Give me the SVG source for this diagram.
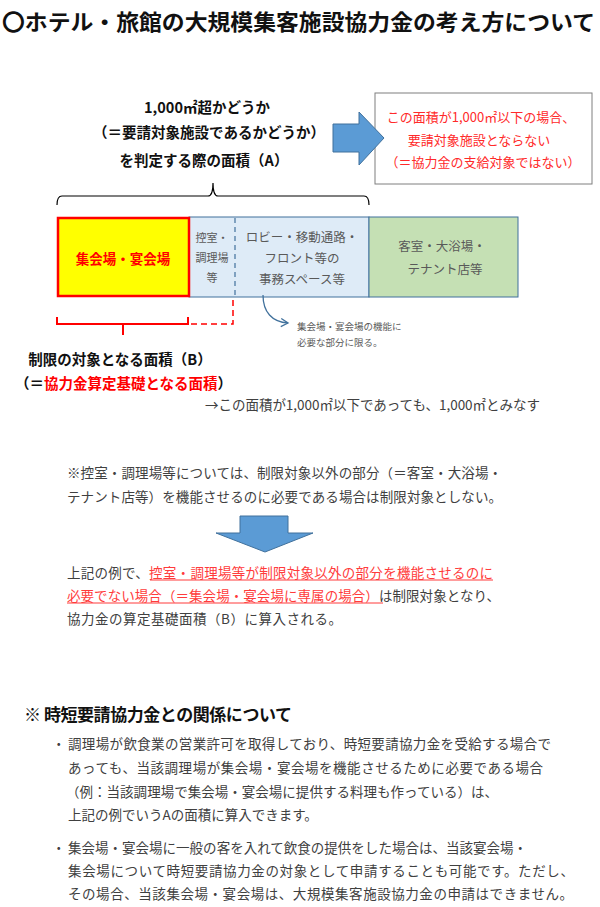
<svg xmlns="http://www.w3.org/2000/svg" width="600" height="907" viewBox="0 0 600 907">
<defs>
<style>
text{font-family:"Noto Sans CJK JP","Noto Sans",sans-serif;dominant-baseline:central}
.t{fill:#404040;font-size:13.5px}
.b{font-weight:bold;fill:#111}
.r{fill:#ff2a2a}
.rb{fill:#ff0000;font-weight:bold}
.c{text-anchor:middle}
.g{fill:#595959}
.blk{fill:#5b9bd5;stroke:#41719c;stroke-width:1}
</style>
<marker id="ah" markerWidth="10" markerHeight="10" refX="8" refY="5" orient="auto" markerUnits="userSpaceOnUse">
<path d="M1,1 L8,5 L1,9" fill="none" stroke="#41719c" stroke-width="1.3"/>
</marker>
</defs>
<rect width="600" height="907" fill="#fff"/>

<g id="title">
<text x="2" y="20" class="b" font-size="22" textLength="593" lengthAdjust="spacingAndGlyphs">〇ホテル・旅館の大規模集客施設協力金の考え方について</text>
</g>

<g id="areaA-label">
<text x="207" y="106" class="b c" font-size="14.5">1,000㎡超かどうか</text>
<text x="209" y="131" class="b c" font-size="14.5" textLength="232" lengthAdjust="spacingAndGlyphs">（＝要請対象施設であるかどうか）</text>
<text x="204" y="159" class="b c" font-size="14.5">を判定する際の面積（A）</text>
</g>

<g id="note-box">
<rect x="375" y="93" width="217" height="91" fill="#fff" stroke="#7f7f7f" stroke-width="1"/>
<text x="481" y="116" class="r c" font-size="13">この面積が1,000㎡以下の場合、</text>
<text x="479" y="139" class="r c" font-size="13">要請対象施設とならない</text>
<text x="483" y="161" class="r c" font-size="13">（＝協力金の支給対象ではない）</text>
</g>

<g id="bar-lobby">
<rect x="189" y="217" width="180" height="80" fill="#deebf7" stroke="#41719c" stroke-width="1"/>
<line x1="235" y1="218" x2="235" y2="297" stroke="#41719c" stroke-width="1.2" stroke-dasharray="5,4"/>
<text x="212" y="237" class="g c" font-size="11">控室・</text>
<text x="212" y="257" class="g c" font-size="11">調理場</text>
<text x="212" y="277" class="g c" font-size="11">等</text>
<text x="302" y="236" class="g c" font-size="12.5">ロビー・移動通路・</text>
<text x="302" y="257" class="g c" font-size="12.5">フロント等の</text>
<text x="302" y="278" class="g c" font-size="12.5">事務スペース等</text>
</g>

<g id="bar-hall">
<rect x="58" y="218" width="131" height="78" fill="#ffff00" stroke="#ff0000" stroke-width="2.5"/>
<text x="123" y="258" class="rb c" font-size="13.5">集会場・宴会場</text>
</g>

<g id="bar-guest">
<rect x="369" y="217" width="149" height="80" fill="#c5e0b4" stroke="#41719c" stroke-width="1"/>
<text x="442" y="245" class="g c" font-size="12.5">客室・大浴場・</text>
<text x="445" y="268" class="g c" font-size="12.5">テナント店等</text>
</g>

<g id="small-note">
<text x="297" y="326" class="g" font-size="9.5">集会場・宴会場の機能に</text>
<text x="297" y="342" class="g" font-size="9.5">必要な部分に限る。</text>
</g>

<g id="areaB-label">
<text x="120" y="358" class="b c" font-size="14.5">制限の対象となる面積（B）</text>
<text x="15" y="382" font-size="14.5" font-weight="bold"><tspan fill="#111">（＝</tspan><tspan fill="#ff0000">協力金算定基礎となる面積</tspan><tspan fill="#111">）</tspan></text>
<text x="205" y="404" class="t" font-size="13" textLength="335">→この面積が1,000㎡以下であっても、1,000㎡とみなす</text>
</g>

<g id="para1">
<text x="67" y="472" class="t" textLength="435">※控室・調理場等については、制限対象以外の部分（＝客室・大浴場・</text>
<text x="67" y="496" class="t" textLength="435">テナント店等）を機能させるのに必要である場合は制限対象としない。</text>
</g>

<g id="para2">
<text x="67" y="572" class="t" textLength="426">上記の例で、<tspan fill="#ff3b3b">控室・調理場等が制限対象以外の部分を機能させるのに</tspan></text>
<text x="67" y="595" class="t" textLength="433"><tspan fill="#ff3b3b">必要でない場合（＝集会場・宴会場に専属の場合）</tspan>は制限対象となり、</text>
<text x="67" y="618" class="t" textLength="275">協力金の算定基礎面積（B）に算入される。</text>
<line x1="150" y1="580" x2="493" y2="580" stroke="#ff3b3b" stroke-width="1"/>
<line x1="67" y1="603" x2="383" y2="603" stroke="#ff3b3b" stroke-width="1"/>
</g>

<g id="section2">
<text x="24" y="713" class="b" font-size="17" textLength="268">※ 時短要請協力金との関係について</text>
<text x="52" y="743" class="t">・</text>
<text x="68" y="743" class="t" textLength="483">調理場が飲食業の営業許可を取得しており、時短要請協力金を受給する場合で</text>
<text x="68" y="767" class="t" textLength="475">あっても、当該調理場が集会場・宴会場を機能させるために必要である場合</text>
<text x="66" y="791" class="t" textLength="432">（例：当該調理場で集会場・宴会場に提供する料理も作っている）は、</text>
<text x="68" y="814" class="t">上記の例でいうAの面積に算入できます。</text>
<text x="52" y="847" class="t">・</text>
<text x="68" y="847" class="t" textLength="459">集会場・宴会場に一般の客を入れて飲食の提供をした場合は、当該宴会場・</text>
<text x="68" y="870" class="t" textLength="506">集会場について時短要請協力金の対象として申請することも可能です。ただし、</text>
<text x="68" y="893" class="t" textLength="505">その場合、当該集会場・宴会場は、大規模集客施設協力金の申請はできません。</text>
</g>

<g id="connectors" fill="none">
<path d="M57,205 Q57,196 62,196 L208,196 Q213,196 213,183 Q213,196 218,196 L364,196 Q369,196 369,205" stroke="#000" stroke-width="1.2"/>
<polygon class="blk" points="333,124 359,124 359,112 384,138 359,165 359,152 333,152"/>
<path d="M263,295 C263,312 272,322 288,323" stroke="#41719c" stroke-width="1.3" marker-end="url(#ah)"/>
<path d="M57,317 L57,324 L188,324 L188,317 M123,324 L123,335" stroke="#ff0000" stroke-width="2"/>
<path d="M191,324 L233,324 L233,299" stroke="#ff0000" stroke-width="1.5" stroke-dasharray="6,4"/>
<polygon class="blk" points="240,516 288,516 288,533 313,533 265,552 216,533 240,533"/>
</g>
</svg>
